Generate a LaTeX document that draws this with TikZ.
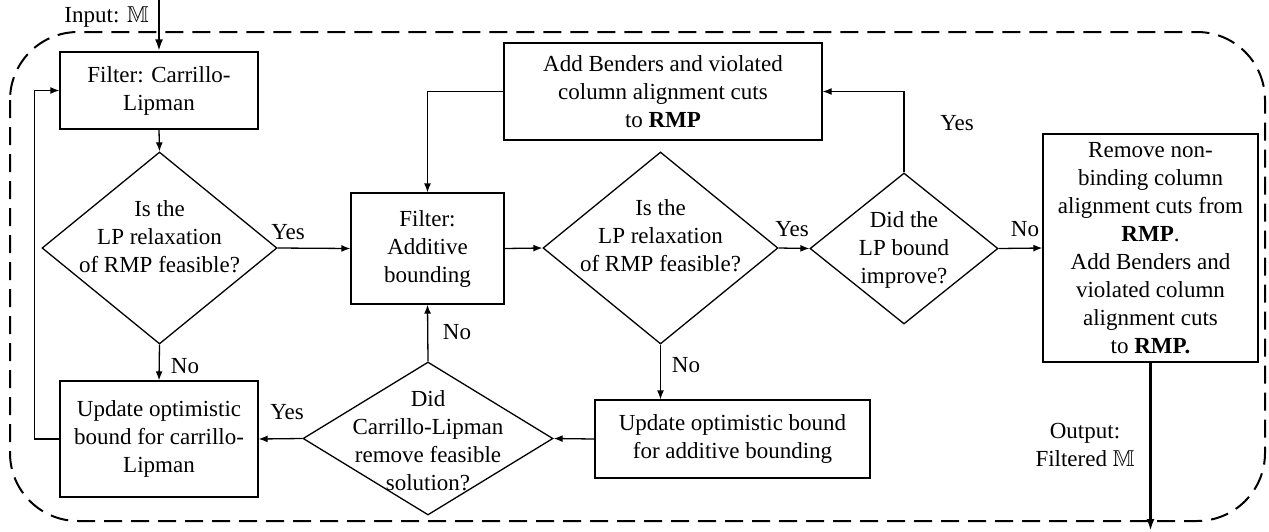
\documentclass[tikz,border=0pt]{standalone}
\usepackage{fontspec}
\usepackage{amssymb}
\setmainfont{Liberation Serif}
\usetikzlibrary{shapes.geometric,arrows.meta}
\tikzset{
  every node/.style={font=\fontsize{23}{28}\selectfont},
  box/.style={draw, line width=1.3pt, align=center, inner sep=0pt},
  dia/.style={draw, diamond, line width=1.3pt, inner sep=0pt, aspect=1},
  dtext/.style={align=center, inner sep=0pt},
  lbl/.style={inner sep=0pt},
  arr/.style={line width=1.3pt, -{Latex[length=9pt,width=7pt]}},
  bigarr/.style={line width=2.4pt, -{Latex[length=12pt,width=8pt]}},
  loopframe/.style={line width=2pt, dash pattern=on 18pt off 9pt, rounded corners=68pt},
}
\begin{document}
\begin{tikzpicture}[x=1pt,y=-1pt]
\useasboundingbox (0,0) rectangle (1269,531);

% dashed frame around the filtering loop
\draw[loopframe] (10,32) rectangle (1265,521);

% process boxes
\node[box, minimum width=198pt, minimum height=77pt] (b1) at (159,90.5) {Filter: Carrillo-\\Lipman};
\node[box, minimum width=198pt, minimum height=116pt] (b2) at (159,439) {Update optimistic\\bound for carrillo-\\Lipman};
\node[box, minimum width=153pt, minimum height=111pt] (b3) at (427.5,248.5) {Filter:\\Additive\\bounding};
\node[box, minimum width=318pt, minimum height=97pt] (b4) at (663,91.5) {Add Benders and violated\\column alignment cuts\\to \textbf{RMP}};
\node[box, minimum width=275pt, minimum height=78pt] (b5) at (732.5,439) {Update optimistic bound\\for additive bounding};
\node[box, minimum width=215pt, minimum height=228pt] (b6) at (1150.5,248) {Remove non-\\binding column\\alignment cuts from\\\textbf{RMP}.\\Add Benders and\\violated column\\alignment cuts\\to \textbf{RMP.}};

% decisions
\node[dia, minimum width=235pt, minimum height=192pt] (d1) at (159.5,248) {};
\node[dtext] (d1t) at (159.5,237) {Is the\\LP relaxation\\of RMP feasible?};
\node[dia, minimum width=235pt, minimum height=192pt] (d2) at (660.5,248) {};
\node[dtext] (d2t) at (660.5,236) {Is the\\LP relaxation\\of RMP feasible?};
\node[dia, minimum width=188pt, minimum height=151pt] (d3) at (904,248.5) {};
\node[dtext] (d3t) at (904,250) {Did the\\LP bound\\improve?};
\node[dia, minimum width=250pt, minimum height=153pt] (d4) at (428,438.5) {};
\node[dtext] (d4t) at (428,440.5) {Did\\Carrillo-Lipman\\remove feasible\\solution?};

% input and output
\coordinate (in) at (159,0);
\coordinate (out) at (1150.5,531);
\node[lbl, anchor=east] (inl) at (149,17) {Input: $\mathbb{M}$};
\node[dtext] (outl) at (1085,445) {Output:\\Filtered $\mathbb{M}$};
\draw[bigarr] (in) -- (b1.north);
\draw[bigarr] (b6.south) -- (out);

% connectors
\draw[arr] (b1.south) -- (d1.north);
\draw[arr] (d1.south) -- (b2.north);
\draw[arr] (b2.west) -- ++(-25,0) |- (b1.west);
\draw[arr] (d1.east) -- (b3.west);
\draw[arr] (b3.east) -- (d2.west);
\draw[arr] (d2.east) -- (d3.west);
\draw[arr] (d3.north) |- (b4.east);
\draw[arr] (b4.west) -| (b3.north);
\draw[arr] (d3.east) -- (b6.west);
\draw[arr] (d2.south) -- (d2.south |- b5.north);
\draw[arr] (b5.west) -- (d4.east);
\draw[arr] (d4.north) -- (b3.south);
\draw[arr] (d4.west) -- (b2.east);

% branch labels
\node[lbl] (y1) at (288,232) {Yes};
\node[lbl] (n1) at (185,366) {No};
\node[lbl] (n2) at (457,332) {No};
\node[lbl] (n3) at (686,365) {No};
\node[lbl] (y2) at (792,229) {Yes};
\node[lbl] (y3) at (957,123) {Yes};
\node[lbl] (n4) at (1025,229) {No};
\node[lbl] (y4) at (287,412) {Yes};
\end{tikzpicture}
\end{document}
